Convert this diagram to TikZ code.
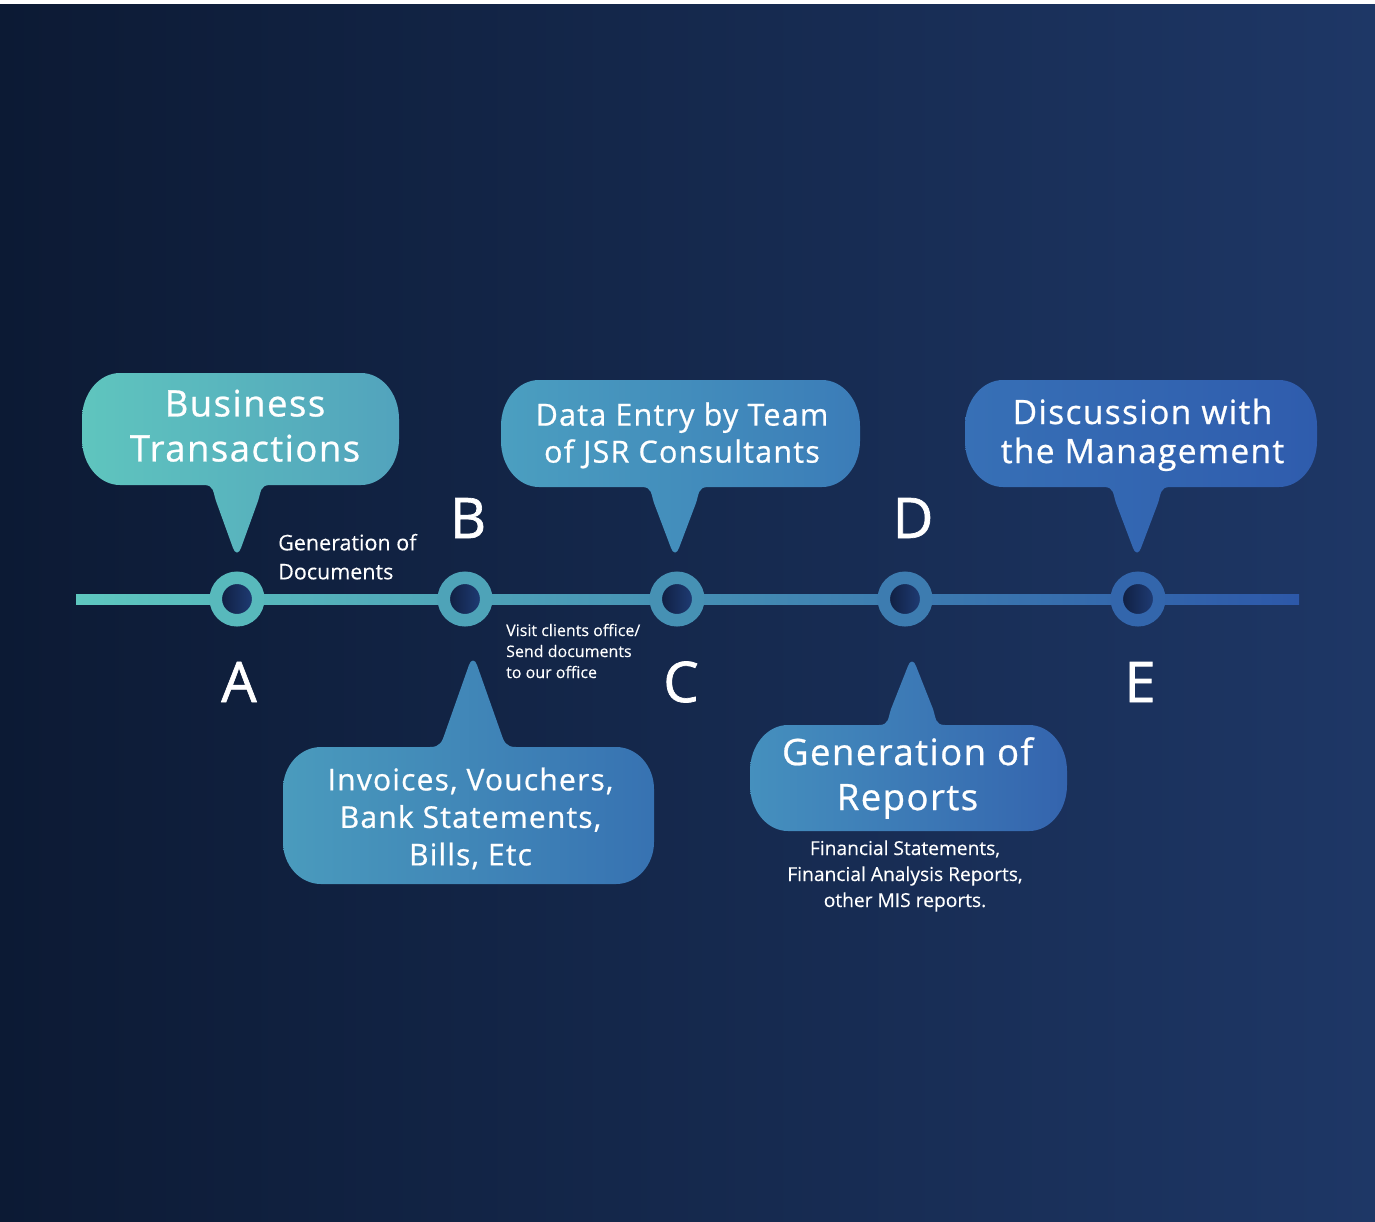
\documentclass[tikz,border=0pt]{standalone}
\usepackage{fontspec}
\usetikzlibrary{calc}
\setmainfont{Open Sans}
\newfontfamily\bubfont[LetterSpace=4,FakeBold=0.7]{Open Sans}
\newfontfamily\letfont[FakeBold=1.2]{Open Sans}
\newfontfamily\notefont[FakeBold=0.25]{Open Sans}
\definecolor{bgL}{HTML}{0C1A34}
\definecolor{bgR}{HTML}{1E3766}
\definecolor{lineL}{HTML}{5EC7BF}
\definecolor{lineR}{HTML}{2D58A9}
\definecolor{innL}{HTML}{0E1B3A}
\definecolor{innR}{HTML}{21407C}
\definecolor{bOneL}{HTML}{5FC5BE}
\definecolor{bOneR}{HTML}{52A3BD}
\definecolor{bTwoL}{HTML}{4B9FC0}
\definecolor{bTwoR}{HTML}{3B7CB8}
\definecolor{bThrL}{HTML}{3770B6}
\definecolor{bThrR}{HTML}{2F5CAD}
\definecolor{bFouL}{HTML}{4A9BBD}
\definecolor{bFouR}{HTML}{3772B2}
\definecolor{bFivL}{HTML}{4590BE}
\definecolor{bFivR}{HTML}{3464AE}
\colorlet{ringA}{lineR!13!lineL}
\colorlet{ringB}{lineR!32!lineL}
\colorlet{ringC}{lineR!49!lineL}
\colorlet{ringD}{lineR!68!lineL}
\colorlet{ringE}{lineR!87!lineL}
\def\crX{38}\def\crY{46}\def\tlB{33}\def\tlW{21}\def\tlD{16}
% speech bubble with tail pointing down: x1,y1,x2,y2,tipx,tipy,left colour,right colour
\newcommand{\bubdown}[8]{%
\shade[left color=#7,right color=#8]
 (#1+\crX,#2) -- (#3-\crX,#2)
 arc[start angle=270,end angle=360,x radius=\crX,y radius=\crY]
 -- (#3,#4-\crY)
 arc[start angle=0,end angle=90,x radius=\crX,y radius=\crY]
 -- (#5+\tlB,#4)
 .. controls (#5+\tlB-10,#4) and (#5+\tlW+3,#4+\tlD-9) .. (#5+\tlW,#4+\tlD)
 -- (#5+4,#6-5)
 .. controls (#5+2,#6+1) and (#5-2,#6+1) .. (#5-4,#6-5)
 -- (#5-\tlW,#4+\tlD)
 .. controls (#5-\tlW-3,#4+\tlD-9) and (#5-\tlB+10,#4) .. (#5-\tlB,#4)
 -- (#1+\crX,#4)
 arc[start angle=90,end angle=180,x radius=\crX,y radius=\crY]
 -- (#1,#2+\crY)
 arc[start angle=180,end angle=270,x radius=\crX,y radius=\crY]
 -- cycle;}
% speech bubble with tail pointing up
\newcommand{\bubup}[8]{%
\shade[left color=#7,right color=#8]
 (#1+\crX,#2) -- (#5-\tlB,#2)
 .. controls (#5-\tlB+10,#2) and (#5-\tlW-3,#2-\tlD+9) .. (#5-\tlW,#2-\tlD)
 -- (#5-4,#6+5)
 .. controls (#5-2,#6-1) and (#5+2,#6-1) .. (#5+4,#6+5)
 -- (#5+\tlW,#2-\tlD)
 .. controls (#5+\tlW+3,#2-\tlD+9) and (#5+\tlB-10,#2) .. (#5+\tlB,#2)
 -- (#3-\crX,#2)
 arc[start angle=270,end angle=360,x radius=\crX,y radius=\crY]
 -- (#3,#4-\crY)
 arc[start angle=0,end angle=90,x radius=\crX,y radius=\crY]
 -- (#1+\crX,#4)
 arc[start angle=90,end angle=180,x radius=\crX,y radius=\crY]
 -- (#1,#2+\crY)
 arc[start angle=180,end angle=270,x radius=\crX,y radius=\crY]
 -- cycle;}
\begin{document}
\begin{tikzpicture}[x=1pt,y=-1pt,
  bubtext/.style={text=white,align=center,inner sep=0pt},
  letter/.style={text=white,font=\letfont\fontsize{56}{60}\selectfont,anchor=base,inner sep=0pt},
  note/.style={text=white,inner sep=0pt},
  ring/.style={circle,inner sep=0pt,minimum size=42.5pt,line width=12.5pt,left color=innL,right color=innR}]
\useasboundingbox (0,0) rectangle (1375,1221);
\fill[white] (0,0) rectangle (1375,1221);
\shade[left color=bgL,right color=bgR] (0,4) rectangle (1375,1221);

% timeline
\coordinate (L) at (76,599);
\coordinate (R) at (1299,599);
\shade[left color=lineL,right color=lineR] ($(L)+(0,-5)$) rectangle ($(R)+(0,5)$);
\node[ring,draw=ringA] (A) at (237,599) {};
\node[ring,draw=ringB] (B) at (465,599) {};
\node[ring,draw=ringC] (C) at (677,599) {};
\node[ring,draw=ringD] (D) at (905,599) {};
\node[ring,draw=ringE] (E) at (1138,599) {};

% bubbles
\bubdown{82}{373}{399}{485}{237}{553}{bOneL}{bOneR}
\bubdown{501}{380}{860}{487}{675}{553}{bTwoL}{bTwoR}
\bubdown{965}{380}{1317}{487}{1137}{553}{bThrL}{bThrR}
\bubup{750}{725}{1067}{831}{912}{661}{bFivL}{bFivR}
\def\crY{42}\def\tlB{43}\def\tlW{28}\def\tlD{14}
\bubup{283}{747}{654}{884}{473}{660}{bFouL}{bFouR}

% bubble texts
\node[bubtext,font=\bubfont\fontsize{36.5}{45}\selectfont] (tA) at (245,425.7) {Business\\Transactions};
\node[bubtext,font=\bubfont\fontsize{30.5}{37}\selectfont] (tC) at (682,435.4) {Data Entry by Team\\of JSR Consultants};
\node[bubtext,font=\bubfont\fontsize{33.5}{39}\selectfont] (tE) at (1142.5,434.8) {Discussion with\\the Management};
\node[bubtext,font=\bubfont\fontsize{30}{37.5}\selectfont] (tB) at (470.5,818.4) {Invoices, Vouchers,\\Bank Statements,\\Bills, Etc};
\node[bubtext,font=\bubfont\fontsize{36.5}{45}\selectfont] (tD) at (907.5,778) {Generation of\\Reports};

% notes
\node[note,align=left,anchor=west,font=\notefont\fontsize{21.5}{29}\selectfont] (nAB) at (278,556.7) {Generation of\\Documents};
\node[note,align=left,anchor=west,font=\notefont\fontsize{16}{21}\selectfont] (nBC) at (506,651) {Visit clients office/\\Send documents\\to our office};
\node[note,align=center,font=\notefont\fontsize{19.2}{26}\selectfont] (nD) at (905,876) {Financial Statements,\\Financial Analysis Reports,\\other MIS reports.};

% letters
\node[letter] (lA) at (239,702) {A};
\node[letter] (lB) at (468,538) {B};
\node[letter] (lC) at (681,702) {C};
\node[letter] (lD) at (913,538) {D};
\node[letter] (lE) at (1140,702) {E};
\end{tikzpicture}
\end{document}
